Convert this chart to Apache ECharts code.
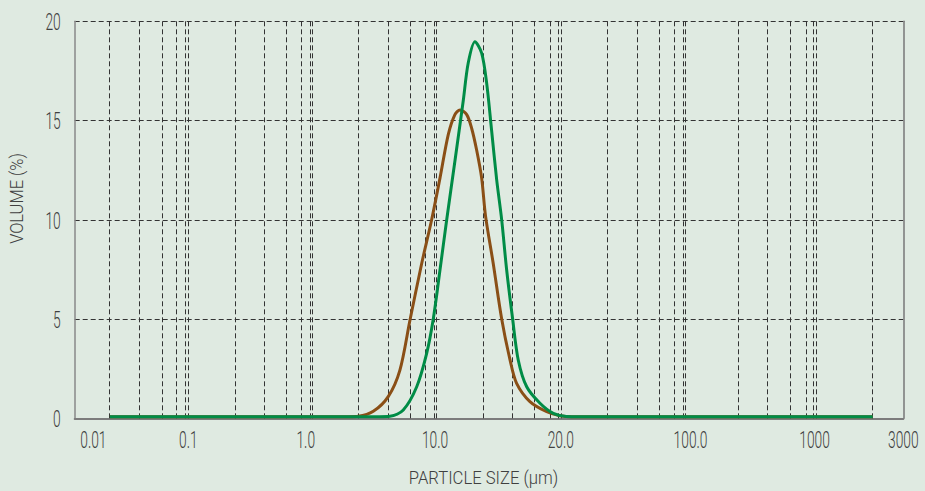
<!DOCTYPE html>
<html>
<head>
<meta charset="utf-8">
<script src="https://cdn.jsdelivr.net/npm/echarts@6/dist/echarts.min.js"></script>
<style>
html,body{margin:0;padding:0;background:#dfeae1;}
#chart{width:925px;height:491px;}
</style>
</head>
<body>
<div id="chart"></div>
<script>
// x positions are in "decade block" units of the printed size axis
var tickLabels = ['0.01', '0.1', '1.0', '10.0', '20.0', '100.0', '1000', '3000'];
var tickPositions = [0.25, 1.013, 1.957, 2.996, 4.007, 5.05, 6.047, 6.76];
var yTicks = [0, 5, 10, 15, 20];
var gridPositions = [
  0.383, 0.619, 0.801, 0.924, 0.992, 1.008,
  1.386, 1.619, 1.798, 1.924, 1.991, 2.010,
  2.385, 2.618, 2.797, 2.924, 2.994, 3.012,
  3.379, 3.615, 3.794, 3.923, 3.993, 4.014,
  4.381, 4.617, 4.797, 4.923, 4.992, 5.011,
  5.432, 5.667, 5.850, 5.976, 6.045, 6.064,
  6.514
];
var brownX = [0.383, 2.300, 2.379, 2.500, 2.620, 2.714, 2.795, 2.889, 2.969, 3.036, 3.103, 3.156, 3.197, 3.251, 3.291, 3.331, 3.371, 3.402, 3.464, 3.532, 3.599, 3.652, 3.759, 3.894, 4.000, 4.097, 4.200, 6.514];
var brownY = [0.08, 0.08, 0.1, 0.35, 1.09, 2.43, 4.95, 7.8, 10.0, 12.1, 14.3, 15.3, 15.53, 15.3, 14.6, 13.5, 12.1, 10.2, 7.8, 5.0, 2.94, 1.76, 0.84, 0.33, 0.13, 0.08, 0.08, 0.08];
var greenX = [0.383, 2.550, 2.634, 2.741, 2.849, 2.929, 2.982, 3.036, 3.090, 3.157, 3.223, 3.263, 3.317, 3.371, 3.411, 3.451, 3.492, 3.532, 3.572, 3.620, 3.665, 3.733, 3.840, 3.947, 4.054, 4.150, 6.514];
var greenY = [0.08, 0.08, 0.1, 0.42, 1.59, 3.27, 5.0, 7.47, 10.0, 13.0, 16.0, 17.9, 18.97, 18.4, 16.9, 14.5, 12.0, 10.0, 7.47, 5.0, 2.94, 1.59, 0.76, 0.25, 0.09, 0.08, 0.08];
var xTitle = 'PARTICLE SIZE (μm)';
var yTitle = 'VOLUME (%)';

function pairs(xs, ys) { return xs.map(function (x, i) { return [x, ys[i]]; }); }

var FONT = 'Roboto, "Liberation Sans", sans-serif';
var TXT = '#404040';
var chart = echarts.init(document.getElementById('chart'), null, { renderer: 'svg' });
chart.setOption({
  backgroundColor: '#dfeae1',
  animation: false,
  grid: { left: 74.7, right: 21.7, top: 21.3, bottom: 72.7, containLabel: false },
  xAxis: {
    type: 'value', min: 0.1, max: 6.76,
    axisLine: { show: true, lineStyle: { color: '#7c7c7c', width: 2 } },
    axisTick: { show: false },
    splitLine: { show: false },
    axisLabel: { show: false }
  },
  yAxis: [{
    type: 'value', min: 0, max: 20, interval: 5,
    axisLine: { show: true, lineStyle: { color: '#888', width: 1.5 } },
    axisTick: { show: false },
    axisLabel: { show: false },
    splitLine: { show: true, lineStyle: { color: '#333', width: 1, type: [5, 3] } }
  }, {
    type: 'value', min: 0, max: 20, position: 'right',
    axisLine: { show: true, lineStyle: { color: '#777', width: 1.5 } },
    axisTick: { show: false }, axisLabel: { show: false }, splitLine: { show: false }
  }],
  series: [{
    type: 'line', name: 'brown',
    data: pairs(brownX, brownY),
    showSymbol: false, smooth: 0.3, z: 3,
    lineStyle: { color: '#8a4f16', width: 3 },
    markLine: {
      silent: true, symbol: 'none', z: 1, animation: false,
      label: { show: false },
      lineStyle: { color: '#333', width: 1, type: [5, 3] },
      emphasis: { disabled: true },
      data: gridPositions.map(function (x) { return { xAxis: x }; })
    }
  }, {
    type: 'line', name: 'green',
    data: pairs(greenX, greenY),
    showSymbol: false, smooth: 0.3, z: 4,
    lineStyle: { color: '#008c46', width: 3 }
  }]
});

// condensed-looking text, positioned through the axis scales
var graphics = [];
tickPositions.forEach(function (p, i) {
  graphics.push({
    type: 'text', x: chart.convertToPixel({ xAxisIndex: 0 }, p), y: 440, scaleX: 0.6,
    style: { text: tickLabels[i], fontFamily: FONT, fontWeight: 300, fontSize: 23, fill: TXT, align: 'center', verticalAlign: 'middle' }
  });
});
var plotLeft = chart.convertToPixel({ xAxisIndex: 0 }, 0.1);
yTicks.forEach(function (v) {
  graphics.push({
    type: 'text', x: plotLeft - 14, y: chart.convertToPixel({ yAxisIndex: 0 }, v) + 1, scaleX: 0.6,
    style: { text: String(v), fontFamily: FONT, fontWeight: 300, fontSize: 23, fill: TXT, align: 'right', verticalAlign: 'middle' }
  });
});
graphics.push({
  type: 'text', x: 483.5, y: 478, scaleX: 0.9,
  style: { text: xTitle, fontFamily: FONT, fontWeight: 300, fontSize: 18.5, fill: TXT, align: 'center', verticalAlign: 'middle' }
});
graphics.push({
  type: 'text', x: 16.7, y: 198.5, rotation: Math.PI / 2, scaleX: 0.9,
  style: { text: yTitle, fontFamily: FONT, fontWeight: 300, fontSize: 18.3, fill: TXT, align: 'center', verticalAlign: 'middle' }
});
chart.setOption({ graphic: graphics });
</script>
</body>
</html>
